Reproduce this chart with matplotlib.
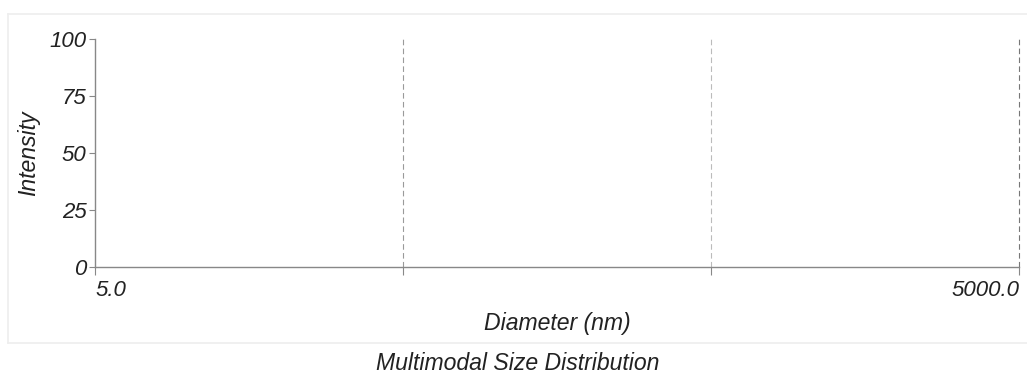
import matplotlib.pyplot as plt
from matplotlib.lines import Line2D

# axis values
x_ticks = [5, 50, 500, 5000]
x_tick_labels = ["5.0", "", "", "5000.0"]
y_ticks = [0, 25, 50, 75, 100]
x_range = (5, 5000)
y_range = (0, 100)
title = "Multimodal Size Distribution"

W, H = 1027, 376
fig = plt.figure(figsize=(W / 100, H / 100), dpi=100)
plt.rcParams['font.family'] = ['Liberation Sans', 'DejaVu Sans']

# pixel box of the plot area
left, right, top, bottom = 95, 1019, 39, 267
ax = fig.add_axes([left / W, 1 - bottom / H, (right - left) / W, (bottom - top) / H])

ax.set_xscale("log")
ax.set_xlim(*x_range)
ax.set_ylim(*y_range)

axis_col = "#888888"
for s in ["top", "right"]:
    ax.spines[s].set_visible(False)
for s in ["left", "bottom"]:
    ax.spines[s].set_color(axis_col)
    ax.spines[s].set_linewidth(1.0)

# dashed decade lines
grid_cols = ["#9a9a9a", "#bbbbbb", "#777777"]
for xv, c in zip(x_ticks[1:], grid_cols):
    ax.axvline(xv, color=c, lw=0.8, dashes=(5, 3), clip_on=False)

ax.set_xticks(x_ticks)
ax.set_xticklabels(x_tick_labels)
ax.xaxis.set_minor_locator(plt.NullLocator())
ax.set_yticks(y_ticks)

ax.tick_params(axis="x", length=6, width=0.8, color=axis_col, pad=3,
               labelsize=16, labelcolor="#222222")
ax.tick_params(axis="y", length=4, width=0.8, color=axis_col, pad=2,
               labelsize=16, labelcolor="#222222")
for lab in ax.get_xticklabels() + ax.get_yticklabels():
    lab.set_style("italic")
xl = ax.get_xticklabels()
xl[0].set_ha("left")
xl[-1].set_ha("right")

ax.set_xlabel("Diameter (nm)", fontsize=16.6, style="italic", color="#222222", labelpad=8)
ax.set_ylabel("Intensity", fontsize=16.6, style="italic", color="#222222", labelpad=7)

# light panel frame and separator
frame_col = "#eeeeee"
fig.add_artist(Line2D([8 / W, 1], [1 - 14 / H, 1 - 14 / H], color=frame_col, lw=1.2))
fig.add_artist(Line2D([8 / W, 8 / W], [1 - 14 / H, 1 - 343 / H], color=frame_col, lw=1.2))
fig.add_artist(Line2D([8 / W, 1], [1 - 343 / H, 1 - 343 / H], color=frame_col, lw=1.2))

fig.text(518 / W, 1 - 363 / H, title, ha="center", va="center",
         fontsize=16.6, style="italic", color="#222222")

fig.savefig("out.png", dpi=100, facecolor="white")
